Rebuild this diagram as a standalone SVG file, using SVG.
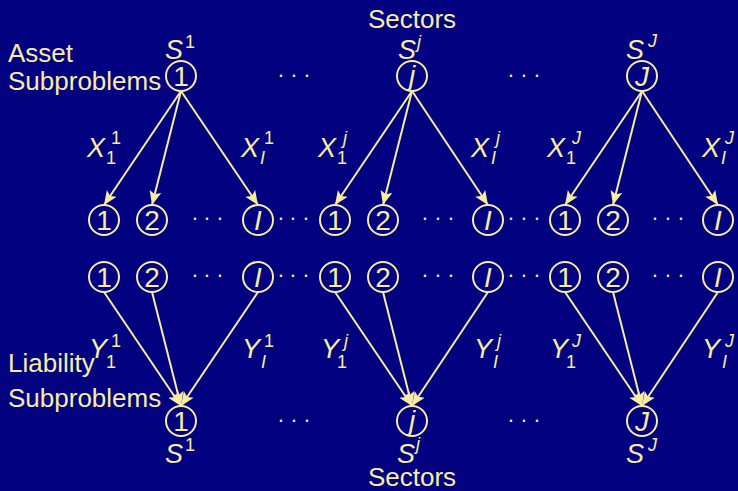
<svg xmlns="http://www.w3.org/2000/svg" width="738" height="491" viewBox="0 0 738 491">
  <defs>
    <marker id="ah" markerUnits="userSpaceOnUse" markerWidth="15" markerHeight="13" viewBox="0 0 15 13" refX="14" refY="6.5" orient="auto">
      <path d="M0,0.5 L14,6.5 L0,12.5 L3,6.5 Z" fill="#f7eca2"/>
    </marker>
  </defs>
  <style>
    text { fill: #f7eca2; font-family: "Liberation Sans", Arial, sans-serif; }
    .it { font-style: italic; }
    .big { font-size: 26px; }
    .m { font-size: 27px; font-style: italic; }
    .scr { font-size: 18px; }
    .num { font-size: 28px; text-anchor: middle; }
    .mid { text-anchor: middle; }
    .dots { font-size: 22px; text-anchor: middle; }
    circle.n { fill: none; stroke: #f7eca2; stroke-width: 2; }
    .edges line { stroke: #f7eca2; stroke-width: 2; marker-end: url(#ah); }
  </style>

  <rect width="738" height="491" fill="#020280"/>

  <!-- side titles -->
  <g id="titles">
    <text class="big mid" x="412" y="28">Sectors</text>
    <text class="big mid" x="412" y="486">Sectors</text>
    <text class="big" x="8" y="62">Asset</text>
    <text class="big" x="8" y="90">Subproblems</text>
    <text class="big" x="8" y="372">Liability</text>
    <text class="big" x="8" y="407">Subproblems</text>
  </g>

  <!-- connectors -->
  <g id="connectors" class="edges">
    <!-- asset side: sector to subproblems -->
    <line x1="181" y1="91" x2="104" y2="205"/>
    <line x1="181" y1="91" x2="152" y2="205"/>
    <line x1="181" y1="91" x2="258" y2="205"/>
    <line x1="412" y1="91" x2="335" y2="205"/>
    <line x1="412" y1="91" x2="383" y2="205"/>
    <line x1="412" y1="91" x2="488" y2="205"/>
    <line x1="642" y1="91" x2="565" y2="205"/>
    <line x1="642" y1="91" x2="613" y2="205"/>
    <line x1="642" y1="91" x2="718" y2="205"/>
    <!-- liability side: subproblems to sector -->
    <line x1="104" y1="292" x2="181" y2="406"/>
    <line x1="152" y1="292" x2="181" y2="406"/>
    <line x1="258" y1="292" x2="181" y2="406"/>
    <line x1="335" y1="292" x2="412" y2="406"/>
    <line x1="383" y1="292" x2="412" y2="406"/>
    <line x1="488" y1="292" x2="412" y2="406"/>
    <line x1="565" y1="292" x2="642" y2="406"/>
    <line x1="613" y1="292" x2="642" y2="406"/>
    <line x1="718" y1="292" x2="642" y2="406"/>
  </g>

  <!-- edge labels -->
  <g id="edge-labels">
    <text class="m" x="87" y="157">X</text><text class="scr" x="111" y="144">1</text><text class="scr" x="106" y="164">1</text>
    <text class="m" x="241" y="157">X</text><text class="scr" x="264" y="144">1</text><text class="scr it" x="260" y="164">I</text>
    <text class="m" x="318" y="157">X</text><text class="scr it" x="343" y="144">j</text><text class="scr" x="337" y="164">1</text>
    <text class="m" x="471" y="157">X</text><text class="scr it" x="496" y="144">j</text><text class="scr it" x="491" y="164">I</text>
    <text class="m" x="547" y="157">X</text><text class="scr it" x="572" y="144">J</text><text class="scr" x="566" y="164">1</text>
    <text class="m" x="702" y="157">X</text><text class="scr it" x="725" y="144">J</text><text class="scr it" x="721" y="164">I</text>

    <text class="m" x="89" y="358">Y</text><text class="scr" x="111" y="347">1</text><text class="scr" x="106" y="368">1</text>
    <text class="m" x="242" y="358">Y</text><text class="scr" x="264" y="347">1</text><text class="scr it" x="261" y="368">I</text>
    <text class="m" x="321" y="358">Y</text><text class="scr it" x="344" y="347">j</text><text class="scr" x="337" y="368">1</text>
    <text class="m" x="474" y="358">Y</text><text class="scr it" x="497" y="347">j</text><text class="scr it" x="493" y="368">I</text>
    <text class="m" x="550" y="358">Y</text><text class="scr it" x="572" y="347">J</text><text class="scr" x="566" y="368">1</text>
    <text class="m" x="702" y="358">Y</text><text class="scr it" x="725" y="347">J</text><text class="scr it" x="722" y="368">I</text>
  </g>

  <!-- ellipses between nodes -->
  <g id="ellipses">
    <text class="dots" x="281 294 307" y="82">···</text>
    <text class="dots" x="511 524 537" y="82">···</text>
    <text class="dots" x="195 207 220" y="225">···</text>
    <text class="dots" x="281 293 306" y="225">···</text>
    <text class="dots" x="425 438 451" y="225">···</text>
    <text class="dots" x="511 524 537" y="225">···</text>
    <text class="dots" x="655 668 681" y="225">···</text>
    <text class="dots" x="195 207 220" y="282">···</text>
    <text class="dots" x="281 293 306" y="282">···</text>
    <text class="dots" x="425 438 451" y="282">···</text>
    <text class="dots" x="511 524 537" y="282">···</text>
    <text class="dots" x="655 668 681" y="282">···</text>
    <text class="dots" x="281 294 307" y="427">···</text>
    <text class="dots" x="511 524 537" y="427">···</text>
  </g>

  <!-- asset-side sector nodes -->
  <g id="sector-top-1">
    <circle class="n" cx="181" cy="76" r="15"/>
    <text class="num" x="181" y="86">1</text>
    <text class="m" x="165" y="59">S</text><text class="scr" x="185" y="48">1</text>
  </g>
  <g id="sector-top-j">
    <circle class="n" cx="412" cy="76" r="15"/>
    <text class="num it" x="412" y="85">j</text>
    <text class="m" x="398" y="59">S</text><text class="scr it" x="417" y="48">j</text>
  </g>
  <g id="sector-top-J">
    <circle class="n" cx="642" cy="76" r="15"/>
    <text class="num it" x="642" y="86">J</text>
    <text class="m" x="626" y="59">S</text><text class="scr it" x="648" y="47">J</text>
  </g>

  <!-- asset subproblems -->
  <g id="asset-1-1"><circle class="n" cx="104" cy="220" r="15"/><text class="num" x="104" y="230">1</text></g>
  <g id="asset-1-2"><circle class="n" cx="152" cy="220" r="15"/><text class="num" x="152" y="230">2</text></g>
  <g id="asset-1-I"><circle class="n" cx="258" cy="220" r="15"/><text class="num it" x="258" y="230">I</text></g>
  <g id="asset-j-1"><circle class="n" cx="335" cy="220" r="15"/><text class="num" x="335" y="230">1</text></g>
  <g id="asset-j-2"><circle class="n" cx="383" cy="220" r="15"/><text class="num" x="383" y="230">2</text></g>
  <g id="asset-j-I"><circle class="n" cx="488" cy="220" r="15"/><text class="num it" x="488" y="230">I</text></g>
  <g id="asset-J-1"><circle class="n" cx="565" cy="220" r="15"/><text class="num" x="565" y="230">1</text></g>
  <g id="asset-J-2"><circle class="n" cx="613" cy="220" r="15"/><text class="num" x="613" y="230">2</text></g>
  <g id="asset-J-I"><circle class="n" cx="718" cy="220" r="15"/><text class="num it" x="718" y="230">I</text></g>

  <!-- liability subproblems -->
  <g id="liab-1-1"><circle class="n" cx="104" cy="277" r="15"/><text class="num" x="104" y="287">1</text></g>
  <g id="liab-1-2"><circle class="n" cx="152" cy="277" r="15"/><text class="num" x="152" y="287">2</text></g>
  <g id="liab-1-I"><circle class="n" cx="258" cy="277" r="15"/><text class="num it" x="258" y="287">I</text></g>
  <g id="liab-j-1"><circle class="n" cx="335" cy="277" r="15"/><text class="num" x="335" y="287">1</text></g>
  <g id="liab-j-2"><circle class="n" cx="383" cy="277" r="15"/><text class="num" x="383" y="287">2</text></g>
  <g id="liab-j-I"><circle class="n" cx="488" cy="277" r="15"/><text class="num it" x="488" y="287">I</text></g>
  <g id="liab-J-1"><circle class="n" cx="565" cy="277" r="15"/><text class="num" x="565" y="287">1</text></g>
  <g id="liab-J-2"><circle class="n" cx="613" cy="277" r="15"/><text class="num" x="613" y="287">2</text></g>
  <g id="liab-J-I"><circle class="n" cx="718" cy="277" r="15"/><text class="num it" x="718" y="287">I</text></g>

  <!-- liability-side sector nodes -->
  <g id="sector-bot-1">
    <circle class="n" cx="181" cy="421" r="15"/>
    <text class="num" x="181" y="431">1</text>
    <text class="m" x="165" y="463">S</text><text class="scr" x="185" y="451">1</text>
  </g>
  <g id="sector-bot-j">
    <circle class="n" cx="412" cy="421" r="15"/>
    <text class="num it" x="412" y="430">j</text>
    <text class="m" x="397" y="463">S</text><text class="scr it" x="416" y="450">j</text>
  </g>
  <g id="sector-bot-J">
    <circle class="n" cx="642" cy="421" r="15"/>
    <text class="num it" x="642" y="431">J</text>
    <text class="m" x="626" y="463">S</text><text class="scr it" x="648" y="451">J</text>
  </g>
</svg>
